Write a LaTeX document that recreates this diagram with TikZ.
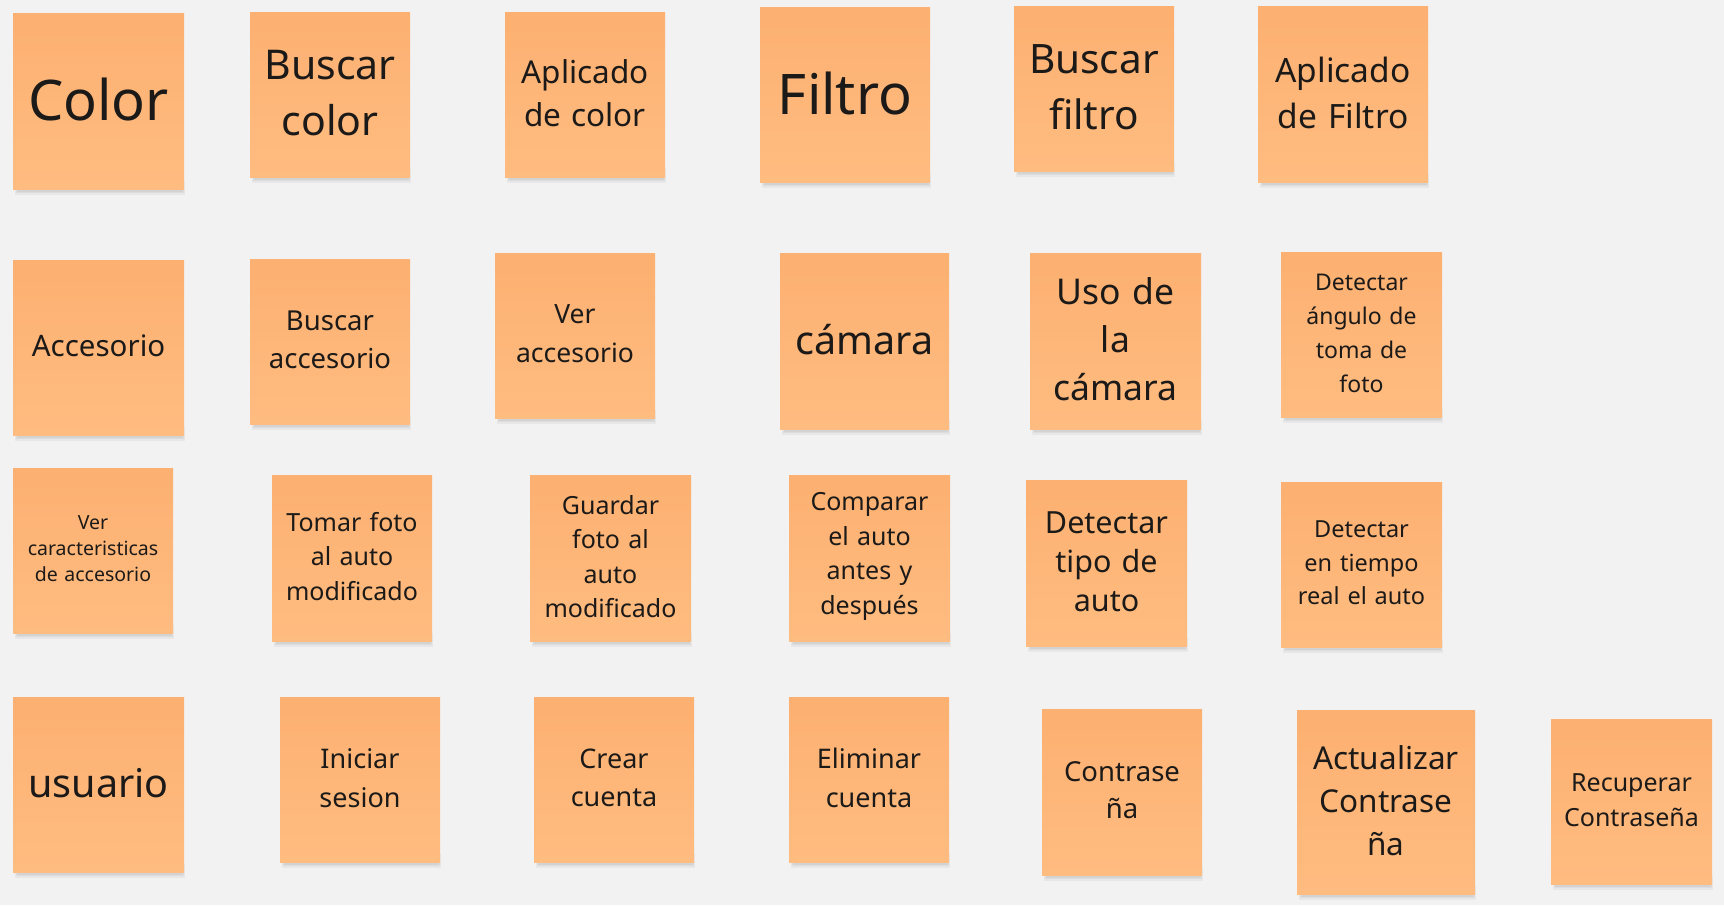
\documentclass[tikz,border=0pt]{standalone}
\usepackage{fontspec}
\setmainfont{Noto Sans}
\definecolor{bgc}{HTML}{F2F2F2}
\definecolor{stickytop}{HTML}{FCB071}
\definecolor{stickybot}{HTML}{FFBC80}
\definecolor{txtc}{HTML}{1C1A18}
\tikzset{
  stickypaper/.style={top color=stickytop, bottom color=stickybot, draw=none},
  stickytext/.style={inner sep=0pt, align=center, text=txtc},
  stickyshadow/.style={fill=black, opacity=0.045}
}
\newcommand\stk[8]{%
  \pgfmathsetmacro\stktw{#4-#2-8}%
  \fill[stickyshadow] (#2+2,#5-8) rectangle (#4+1,#5+6);
  \fill[stickyshadow] (#2+3,#5-8) rectangle (#4,#5+4);
  \fill[stickyshadow] (#2+4,#5-8) rectangle (#4-1,#5+2.5);
  \fill[stickyshadow] (#2+5,#5-8) rectangle (#4-2,#5+1.2);
  \shade[stickypaper] (#2,#3) rectangle (#4,#5);
  \node[stickytext, text width=\stktw pt,
        font=\fontsize{#6}{#7}\selectfont] (#1) at ({(#2+#4)/2},{(#3+#5)/2-1.5}) {#8};
}
\begin{document}
\begin{tikzpicture}[x=1pt,y=-1pt]
\fill[bgc] (0,0) rectangle (1724,905);
\useasboundingbox (0,0) rectangle (1724,905);
% Row 1
\stk{color}{13}{13}{184}{189}{56}{68}{Color}
\stk{bcolor}{250}{12}{410}{177}{41}{56}{Buscar\\color}
\stk{acolor}{505}{12}{665}{177}{31.5}{43}{Aplicado\\de color}
\stk{filtro}{760}{7}{930}{182}{56}{68}{Filtro}
\stk{bfiltro}{1014}{6}{1174}{171}{40.5}{56}{Buscar\\filtro}
\stk{afiltro}{1258}{6}{1428}{182}{33.5}{46}{Aplicado\\de Filtro}
% Row 2
\stk{acc}{13}{260}{184}{435}{29.5}{40}{Accesorio}
\stk{bacc}{250}{259}{410}{424}{27.5}{38}{Buscar\\accesorio}
\stk{vacc}{495}{253}{655}{418}{26.5}{39}{Ver\\accesorio}
\stk{camara}{780}{253}{949}{429}{39.5}{50}{cámara}
\stk{uso}{1030}{253}{1201}{429}{35.5}{48}{Uso de\\la\\cámara}
\stk{angulo}{1281}{252}{1442}{417}{23}{34}{Detectar\\ángulo de\\toma de\\foto}
% Row 3
\stk{vcar}{13}{468}{173}{633}{19.5}{26}{Ver\\caracteristicas\\de accesorio}
\stk{tomar}{272}{475}{432}{641}{25}{34.5}{Tomar foto\\al auto\\modificado}
\stk{guardar}{530}{475}{691}{641}{25}{34.5}{Guardar\\foto al\\auto\\modificado}
\stk{comparar}{789}{475}{950}{641}{25}{34.5}{Comparar\\el auto\\antes y\\después}
\stk{tipo}{1026}{480}{1187}{646}{30.5}{39}{Detectar\\tipo de\\auto}
\stk{tiempo}{1281}{482}{1442}{647}{23.5}{33.5}{Detectar\\en tiempo\\real el auto}
% Row 4
\stk{usuario}{13}{697}{184}{872}{39.5}{50}{usuario}
\stk{iniciar}{280}{697}{440}{862}{27}{38.5}{Iniciar\\sesion}
\stk{crear}{534}{697}{694}{862}{27}{38.5}{Crear\\cuenta}
\stk{eliminar}{789}{697}{949}{862}{27}{38.5}{Eliminar\\cuenta}
\stk{contrasena}{1042}{709}{1202}{875}{27.5}{37}{Contrase\\ña}
\stk{actualizar}{1297}{710}{1475}{894}{31.5}{43}{Actualizar\\Contrase\\ña}
\stk{recuperar}{1551}{719}{1712}{884}{25}{34.5}{Recuperar\\Contraseña}
\end{tikzpicture}
\end{document}
